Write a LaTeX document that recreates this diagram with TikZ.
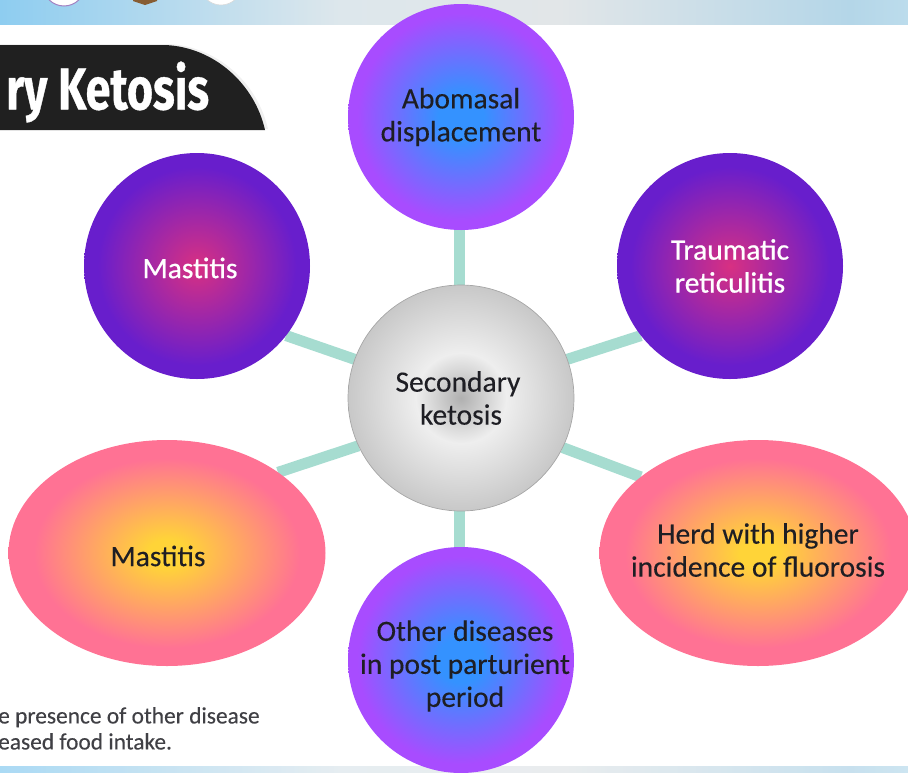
\documentclass[tikz,border=0pt]{standalone}
\usepackage{fontspec}
\setmainfont[FakeBold=0.25]{Carlito}
\newfontfamily\whitefont[FakeBold=0.7]{Carlito}
\newfontfamily\tabfont[FakeStretch=0.76, FakeBold=0.6]{Fira Sans}
\usetikzlibrary{shapes.geometric, positioning, backgrounds, shadows}
\definecolor{spoke}{RGB}{166, 220, 208}
\definecolor{blueglow}{RGB}{52, 146, 255}
\definecolor{violetrim}{RGB}{168, 76, 255}
\definecolor{magglow}{RGB}{216, 48, 130}
\definecolor{deepviolet}{RGB}{104, 30, 204}
\definecolor{yellowglow}{RGB}{255, 212, 56}
\definecolor{pinkrim}{RGB}{255, 114, 148}
\definecolor{hubdark}{RGB}{176, 176, 176}
\definecolor{hublight}{RGB}{238, 238, 238}
\definecolor{hubrim}{RGB}{200, 200, 200}
\definecolor{inkdark}{RGB}{30, 30, 36}
\definecolor{tabblack}{RGB}{32, 32, 32}
\definecolor{bandA}{RGB}{142, 205, 240}
\definecolor{bandB}{RGB}{221, 231, 236}
\definecolor{bandC}{RGB}{226, 230, 232}
\definecolor{bandD}{RGB}{180, 214, 232}
\definecolor{bandE}{RGB}{188, 220, 236}
\pgfdeclareradialshading{bluepurple}{\pgfpoint{0bp}{0bp}}{color(0bp)=(blueglow); color(5bp)=(blueglow); color(23bp)=(violetrim); color(25bp)=(violetrim); color(50bp)=(violetrim)}
\pgfdeclareradialshading{magviolet}{\pgfpoint{0bp}{0bp}}{color(0bp)=(magglow); color(22bp)=(deepviolet); color(25bp)=(deepviolet); color(50bp)=(deepviolet)}
\pgfdeclareradialshading{yellowpink}{\pgfpoint{0bp}{0bp}}{color(0bp)=(yellowglow); color(3bp)=(yellowglow); color(21bp)=(pinkrim); color(25bp)=(pinkrim); color(50bp)=(pinkrim)}
\pgfdeclareradialshading{hubgrey}{\pgfpoint{0bp}{0bp}}{color(0bp)=(hubdark); color(10bp)=(hublight); color(25bp)=(hubrim); color(50bp)=(hubrim)}
\pgfdeclarehorizontalshading{bandshade}{100bp}{color(0bp)=(bandA); color(25bp)=(bandA); color(43.7bp)=(bandB); color(55.8bp)=(bandC); color(71.8bp)=(bandD); color(75bp)=(bandE); color(100bp)=(bandE)}

\begin{document}
\begin{tikzpicture}[
  x=1pt, y=-1pt,
  node distance=55pt,
  label font/.style={font=\fontsize{29.5}{33}\selectfont, align=center, text=inkdark},
  disc/.style={circle, minimum size=226pt, inner sep=-15pt, outer sep=0pt, shade, label font},
  bluedisc/.style={disc, shading=bluepurple},
  violetdisc/.style={disc, shading=magviolet, text=white, font=\whitefont\fontsize{29.5}{33}\selectfont},
  pinkoval/.style={ellipse, minimum width=317pt, minimum height=226pt, inner sep=-60pt, outer sep=0pt,
                   shade, shading=yellowpink, label font},
  hubdisc/.style={disc, shading=hubgrey, draw=black!35, line width=0.7pt},
  arr/.style={spoke, line width=11pt}
]
  \useasboundingbox (0,0) rectangle (908,772);
  % bands
  \shade[shading=bandshade] (0,0) rectangle (908,24);
  \shade[shading=bandshade, opacity=0.75] (0,766) rectangle (908,772);
  % logos
  \draw[fill=white, draw=violetrim!60!black!60, line width=1pt] (64,-15) circle (21);
  \fill[black!45!orange!60!gray] (133,-4) -- (157,-4) -- (157,1) -- (145,5) -- (133,1) -- cycle;
  \draw[fill=white, draw=black!15, line width=0.6pt] (221,-16) circle (21);
  % title tab
  \fill[tabblack, drop shadow={shadow xshift=3pt, shadow yshift=1pt, opacity=0.12}]
    (-5,45) -- (165,45) .. controls (215,47) and (255,85) .. (265,130) -- (-5,130) -- cycle;
  \node[anchor=west, inner sep=0pt, text=white] (tabtitle) at (6,92)
    {\tabfont\bfseries\fontsize{59}{59}\selectfont ry Ketosis};

  \node[hubdisc] (keto) at (461,398) {\hspace*{-6pt}Secondary\\ketosis};
  \node[bluedisc, above=of keto] (abomasal) {Abomasal\\displacement};
  \node[bluedisc, below=36pt of keto] (other) {};
  \node[violetdisc] (mastitisup) at (197,266) {};
  \node[violetdisc] (reticul) at (730,266) {Traumatic\\reticulitis};
  \node[pinkoval] (mastitislow) at (167,553) {};
  \node[pinkoval] (fluoro) at (758,553) {};

  % text off centre
  \node[label font, inner sep=0pt] (othertext) at ([xshift=4pt, yshift=-6pt]other) {Other diseases\\in post parturient\\period};
  \node[label font, text=white, font=\whitefont\fontsize{29.5}{33}\selectfont, inner sep=0pt] (mastitisuptext) at ([xshift=-7pt, yshift=-2pt]mastitisup) {Mastitis};
  \node[label font, inner sep=0pt] (mastitislowtext) at ([xshift=-9pt, yshift=-3pt]mastitislow) {Mastitis};
  \node[label font, inner sep=0pt] (fluorotext) at ([yshift=3pt]fluoro) {Herd with higher\\incidence of fluorosis};

  \begin{scope}[on background layer]
    \draw[arr] (keto.91) -- (abomasal.-91);
    \draw[arr] (keto.-91) -- (other.91);
    \draw[arr] (keto.160) -- (mastitisup.-38);
    \draw[arr] (keto.20) -- (reticul.218);
    \draw[arr] (keto.205) -- (mastitislow.36);
    \draw[arr] (keto.-26) -- (fluoro.147);
  \end{scope}

  \node[anchor=north west, inner sep=0pt, align=left, text=inkdark!85,
        font=\fontsize{23.4}{26}\selectfont] (footnote) at (-2,707)
    {e presence of other disease\\eased food intake.};
\end{tikzpicture}
\end{document}
